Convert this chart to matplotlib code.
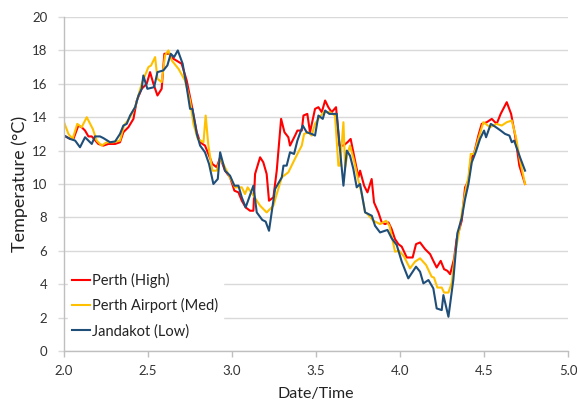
import matplotlib
matplotlib.use("Agg")
import matplotlib.pyplot as plt

plt.rcParams['font.family'] = ['Lato', 'DejaVu Sans']

# readings: (day, temperature) for each station
perth_x = [2.000, 2.036, 2.056, 2.085, 2.105, 2.125, 2.145, 2.165, 2.204, 2.234,
           2.264, 2.304, 2.333, 2.353, 2.383, 2.413, 2.433, 2.462, 2.492, 2.512,
           2.532, 2.556, 2.581, 2.597, 2.625, 2.651, 2.700, 2.730, 2.760, 2.790,
           2.810, 2.839, 2.859, 2.883, 2.909, 2.929, 2.958, 2.988, 3.014, 3.038,
           3.058, 3.081, 3.107, 3.127, 3.137, 3.167, 3.186, 3.206, 3.220, 3.246,
           3.266, 3.292, 3.312, 3.335, 3.345, 3.375, 3.389, 3.415, 3.425, 3.448,
           3.464, 3.494, 3.514, 3.534, 3.554, 3.573, 3.593, 3.619, 3.639, 3.663,
           3.687, 3.706, 3.726, 3.752, 3.762, 3.786, 3.806, 3.831, 3.845, 3.871,
           3.891, 3.911, 3.931, 3.950, 3.970, 3.990, 4.010, 4.040, 4.075, 4.095,
           4.119, 4.149, 4.179, 4.198, 4.218, 4.242, 4.262, 4.282, 4.298, 4.321,
           4.337, 4.367, 4.387, 4.407, 4.421, 4.440, 4.466, 4.486, 4.516, 4.546,
           4.575, 4.599, 4.635, 4.661, 4.685, 4.710, 4.744]
perth_y = [12.9, 12.7, 12.7, 13.5, 13.4, 13.2, 12.85, 12.85, 12.4, 12.3,
           12.4, 12.4, 12.5, 13.1, 13.4, 13.9, 15.0, 15.7, 16.0, 16.7,
           16.0, 15.3, 15.7, 17.8, 17.8, 17.5, 17.2, 16.2, 14.7, 13.1,
           12.5, 12.3, 11.8, 11.2, 11.0, 11.6, 10.8, 10.4, 9.6, 9.5,
           9.0, 8.6, 8.4, 8.4, 10.6, 11.6, 11.3, 10.6, 9.0, 9.2,
           10.8, 13.9, 13.1, 12.8, 12.3, 12.9, 13.2, 13.2, 14.1, 14.2,
           13.1, 14.5, 14.6, 14.3, 15.0, 14.6, 14.3, 14.6, 12.3, 12.3,
           12.5, 12.7, 11.7, 10.4, 10.8, 9.9, 9.5, 10.3, 8.9, 8.3,
           7.7, 7.6, 7.7, 7.3, 6.7, 6.4, 6.25, 5.6, 5.6, 6.4,
           6.5, 6.1, 5.8, 5.4, 5.0, 5.4, 4.9, 4.8, 4.6, 5.5,
           6.7, 7.8, 9.8, 10.2, 11.5, 11.8, 12.9, 13.6, 13.7, 13.9,
           13.6, 14.2, 14.9, 14.2, 12.9, 11.1, 10.0]

airport_x = [2.000, 2.026, 2.051, 2.079, 2.105, 2.135, 2.171, 2.194, 2.224, 2.254,
             2.294, 2.333, 2.357, 2.393, 2.423, 2.462, 2.502, 2.518, 2.542, 2.556,
             2.581, 2.601, 2.621, 2.641, 2.681, 2.720, 2.750, 2.770, 2.796, 2.830,
             2.843, 2.859, 2.883, 2.909, 2.929, 2.948, 2.982, 3.018, 3.058, 3.077,
             3.093, 3.121, 3.167, 3.206, 3.246, 3.266, 3.296, 3.335, 3.369, 3.389,
             3.415, 3.429, 3.454, 3.474, 3.494, 3.514, 3.544, 3.583, 3.613, 3.633,
             3.643, 3.663, 3.673, 3.687, 3.702, 3.726, 3.752, 3.772, 3.792, 3.802,
             3.841, 3.881, 3.917, 3.937, 3.970, 3.995, 4.024, 4.059, 4.089, 4.119,
             4.155, 4.188, 4.202, 4.222, 4.248, 4.262, 4.288, 4.308, 4.327, 4.347,
             4.373, 4.393, 4.407, 4.421, 4.440, 4.466, 4.496, 4.536, 4.575, 4.605,
             4.635, 4.665, 4.690, 4.714, 4.744]
airport_y = [13.7, 13.0, 12.7, 13.6, 13.4, 14.0, 13.3, 12.6, 12.3, 12.5,
             12.5, 12.6, 13.5, 14.0, 14.6, 16.0, 17.0, 17.1, 17.6, 16.3,
             16.1, 17.7, 18.0, 17.4, 16.9, 16.2, 15.0, 13.6, 12.7, 12.5,
             14.1, 12.3, 10.8, 10.8, 11.5, 11.2, 10.5, 9.8, 9.8, 9.4,
             9.8, 9.4, 8.7, 8.3, 8.7, 9.4, 10.4, 10.7, 11.4, 11.8,
             12.3, 13.0, 13.1, 12.9, 13.6, 13.9, 14.3, 14.3, 14.1, 11.1,
             11.1, 13.7, 11.0, 11.8, 12.3, 11.4, 10.2, 9.4, 8.3, 8.25,
             7.8, 7.6, 7.8, 7.5, 5.95, 6.0, 5.65, 4.95, 5.35, 5.55,
             5.15, 4.45, 4.4, 3.8, 3.8, 3.5, 3.5, 4.1, 5.8, 6.9,
             8.6, 9.8, 10.4, 11.8, 11.8, 12.7, 13.7, 13.4, 13.6, 13.5,
             13.7, 13.8, 12.8, 11.4, 10.0]

jandakot_x = [2.000, 2.036, 2.066, 2.095, 2.125, 2.165, 2.184, 2.214, 2.234, 2.274,
              2.304, 2.333, 2.353, 2.373, 2.393, 2.423, 2.443, 2.462, 2.472, 2.496,
              2.536, 2.556, 2.591, 2.615, 2.635, 2.655, 2.677, 2.706, 2.730, 2.750,
              2.764, 2.790, 2.810, 2.839, 2.863, 2.889, 2.915, 2.929, 2.958, 2.988,
              3.014, 3.038, 3.058, 3.081, 3.127, 3.147, 3.180, 3.200, 3.220, 3.256,
              3.296, 3.306, 3.325, 3.345, 3.369, 3.389, 3.421, 3.444, 3.474, 3.494,
              3.514, 3.540, 3.554, 3.579, 3.603, 3.623, 3.643, 3.663, 3.683, 3.702,
              3.722, 3.742, 3.762, 3.792, 3.832, 3.851, 3.881, 3.925, 3.950, 3.980,
              4.010, 4.049, 4.095, 4.119, 4.139, 4.169, 4.198, 4.218, 4.248, 4.258,
              4.288, 4.317, 4.341, 4.367, 4.387, 4.407, 4.427, 4.450, 4.476, 4.500,
              4.512, 4.540, 4.571, 4.599, 4.625, 4.651, 4.665, 4.679, 4.714, 4.744]
jandakot_y = [12.9, 12.7, 12.6, 12.2, 12.8, 12.4, 12.85, 12.85, 12.75, 12.5,
              12.55, 13.0, 13.5, 13.6, 14.1, 14.6, 15.3, 15.7, 16.5, 15.7,
              15.8, 16.7, 16.8, 17.1, 17.8, 17.6, 18.0, 17.2, 15.8, 14.5,
              14.5, 13.0, 12.3, 11.9, 11.2, 10.0, 10.3, 11.9, 10.8, 10.5,
              9.9, 9.9, 9.2, 8.6, 9.9, 8.3, 7.85, 7.75, 7.2, 9.7,
              10.4, 11.1, 11.1, 11.9, 11.8, 12.6, 13.5, 13.1, 13.0, 12.9,
              14.1, 13.9, 14.4, 14.2, 14.2, 14.2, 12.0, 9.9, 12.0, 11.7,
              10.9, 9.8, 10.0, 8.3, 8.1, 7.5, 7.1, 7.25, 6.75, 6.35,
              5.35, 4.35, 5.05, 4.75, 4.05, 4.25, 3.75, 2.55, 2.45, 3.35,
              2.05, 4.25, 7.05, 7.95, 9.1, 10.0, 11.3, 11.9, 12.7, 13.2,
              12.8, 13.6, 13.4, 13.2, 13.0, 12.9, 12.5, 12.6, 11.6, 10.8]

labels = ["Perth (High)", "Perth Airport (Med)", "Jandakot (Low)"]
colors = ["#ff0000", "#ffc000", "#1f4e79"]

xticks = [2.0, 2.5, 3.0, 3.5, 4.0, 4.5, 5.0]
yticks = list(range(0, 21, 2))

fig = plt.figure(figsize=(5.77, 4.05), dpi=100)
ax = fig.add_axes([0.111, 0.1333, 0.8735, 0.8247])

for xs, ys, lab, col in zip([perth_x, airport_x, jandakot_x],
                            [perth_y, airport_y, jandakot_y], labels, colors):
    ax.plot(xs, ys, color=col, lw=1.5, label=lab)

ax.set_xlim(2.0, 5.0)
ax.set_ylim(0, 20)
ax.set_xticks(xticks)
ax.set_xticklabels(["%.1f" % t for t in xticks])
ax.set_yticks(yticks)

# excel style: grey horizontal grid, grey axis lines, outward ticks
ax.grid(axis='y', color='#d9d9d9', lw=1.0)
ax.set_axisbelow(True)
for s in ['top', 'right']:
    ax.spines[s].set_visible(False)
for s in ['left', 'bottom']:
    ax.spines[s].set_color('#bfbfbf')
    ax.spines[s].set_linewidth(1.0)
ax.tick_params(axis='y', direction='out', length=4, width=1.0, color='#d9d9d9',
               pad=8, labelsize=9.5, labelcolor='#333333')
ax.tick_params(axis='x', direction='out', length=4, width=1.0, color='#bfbfbf',
               pad=6, labelsize=9.5, labelcolor='#333333')

ax.set_xlabel("Date/Time", fontsize=11.5, color='#222222', labelpad=7)
ax.set_ylabel("Temperature (\u00b0C)", fontsize=13, color='#222222',
              labelpad=3)

leg = ax.legend(loc='lower left', bbox_to_anchor=(0.008, 0.025), fontsize=10.5,
                frameon=True, fancybox=False, framealpha=1.0, edgecolor='white',
                handlelength=1.2, handletextpad=0.15, labelspacing=0.72,
                borderpad=0.3, borderaxespad=0)
for t in leg.get_texts():
    t.set_color('#222222')

fig.savefig("out.png", dpi=100)
